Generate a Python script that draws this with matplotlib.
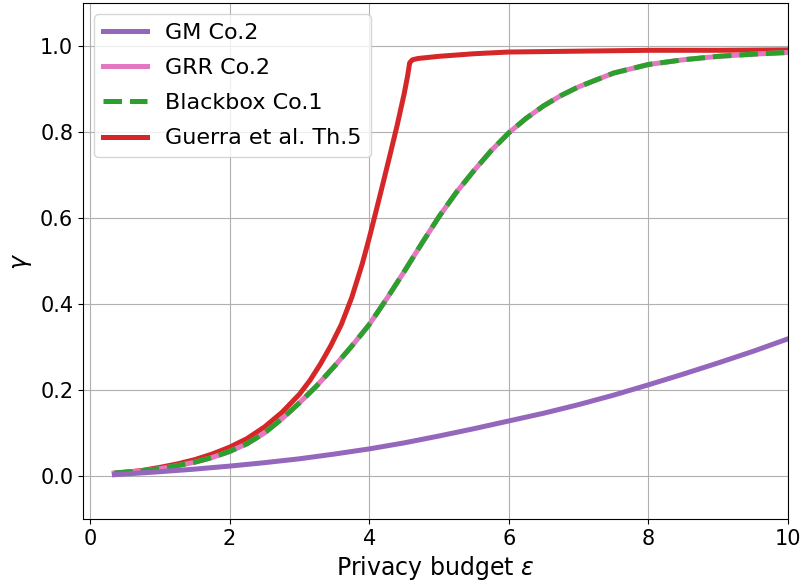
import matplotlib
matplotlib.use("Agg")
import matplotlib.pyplot as plt

# ---- data ----
eps_gm = [0.35, 1.0, 1.5, 2.0, 2.5, 3.0, 3.5, 4.0, 4.5, 5.0, 5.5, 6.0, 6.5, 7.0, 7.5, 8.0, 8.5, 9.0, 9.5, 10.0]
gm = [0.003, 0.010, 0.016, 0.023, 0.031, 0.040, 0.051, 0.063, 0.077, 0.093, 0.110, 0.128, 0.146, 0.166, 0.188,
      0.212, 0.237, 0.263, 0.290, 0.319]

eps_bb = [0.35, 0.75, 1.0, 1.25, 1.5, 1.75, 2.0, 2.25, 2.5, 2.75, 3.0, 3.25, 3.5, 3.75, 4.0, 4.25, 4.5, 4.75,
          5.0, 5.25, 5.5, 5.75, 6.0, 6.25, 6.5, 6.75, 7.0, 7.5, 8.0, 8.5, 9.0, 9.5, 10.0]
grr = [0.007, 0.012, 0.017, 0.024, 0.032, 0.043, 0.057, 0.075, 0.100, 0.133, 0.170, 0.210, 0.255, 0.302,
       0.352, 0.412, 0.475, 0.540, 0.603, 0.660, 0.710, 0.757, 0.798, 0.832, 0.861, 0.885, 0.905, 0.937,
       0.957, 0.968, 0.976, 0.981, 0.985]
blackbox = [0.007, 0.012, 0.017, 0.024, 0.032, 0.043, 0.057, 0.075, 0.100, 0.133, 0.170, 0.210, 0.255, 0.302,
            0.352, 0.412, 0.475, 0.540, 0.603, 0.660, 0.710, 0.757, 0.798, 0.832, 0.861, 0.885, 0.905, 0.937,
            0.957, 0.968, 0.976, 0.981, 0.985]

eps_guerra = [0.35, 0.75, 1.0, 1.25, 1.5, 1.75, 2.0, 2.25, 2.5, 2.75, 3.0, 3.15, 3.3, 3.45, 3.6, 3.75, 3.9,
              4.0, 4.1, 4.2, 4.3, 4.4, 4.5, 4.55, 4.58, 4.62, 4.7, 5.0, 5.5, 6.0, 7.0, 8.0, 9.0, 10.0]
guerra = [0.006, 0.013, 0.020, 0.028, 0.038, 0.051, 0.067, 0.087, 0.114, 0.148, 0.190, 0.222, 0.260, 0.303,
          0.352, 0.415, 0.493, 0.553, 0.617, 0.682, 0.748, 0.815, 0.888, 0.930, 0.961, 0.968, 0.971, 0.976,
          0.982, 0.986, 0.988, 0.990, 0.990, 0.991]

labels = ["GM Co.2", "GRR Co.2", "Blackbox Co.1", "Guerra et al. Th.5"]
xticks = [0, 2, 4, 6, 8, 10]
yticks = [0.0, 0.2, 0.4, 0.6, 0.8, 1.0]

fig = plt.figure(figsize=(8.03, 5.86), dpi=100)
ax = fig.add_axes([83 / 803, 67 / 586, 705 / 803, 516 / 586])

lw = 3.6
ax.plot(eps_gm, gm, color="tab:purple", lw=lw, label=labels[0], zorder=2.3)
ax.plot(eps_bb, grr, color="tab:pink", lw=lw, label=labels[1], zorder=2.1)
ax.plot(eps_bb, blackbox, color="tab:green", lw=lw, ls="--", label=labels[2], zorder=2.2)
ax.plot(eps_guerra, guerra, color="tab:red", lw=lw, label=labels[3], zorder=2.0)

ax.set_xlim(-0.1, 10)
ax.set_ylim(-0.1, 1.1)
ax.set_xticks(xticks)
ax.set_yticks(yticks)
ax.tick_params(labelsize=15)
ax.grid(True)
ax.set_xlabel(r"Privacy budget $\varepsilon$", fontsize=17)
ax.set_ylabel(r"$\gamma$", fontsize=17)
ax.legend(loc="upper left", fontsize=16, labelspacing=0.68)

fig.savefig("out.png", dpi=100)
